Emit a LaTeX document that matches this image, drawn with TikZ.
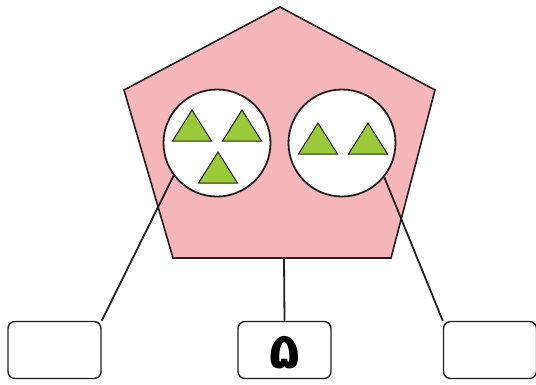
\documentclass[tikz,border=0pt]{standalone}
\usepackage{fontspec}
\newfontfamily\arabicfont[Script=Arabic]{DejaVu Sans}
\TeXXeTstate=1
\definecolor{pent}{HTML}{F7B6BA}
\definecolor{tri}{HTML}{9ACA3C}
\definecolor{ink}{HTML}{231F20}
\begin{document}
\begin{tikzpicture}[x=1pt,y=-1pt,
  ln/.style={draw=ink,line width=1.8pt},
  circ/.style={circle,draw=ink,line width=1.8pt,fill=white,minimum size=107pt,inner sep=0pt},
  box/.style={draw=ink,line width=1.4pt,rounded corners=7pt,fill=white,minimum width=93pt,minimum height=57pt,inner sep=0pt},
  trg/.style={fill=tri,draw=ink,line width=1pt,line join=miter}]
\useasboundingbox (0,0) rectangle (536,384);
% pentagon
\draw[fill=pent,draw=ink,line width=1.6pt] (280,7) -- (435,90) -- (391,258) -- (173,258) -- (124,90) -- cycle;
\coordinate (pb) at (284,258);
% boxes
\node[box] (lb) at (54.5,350) {};
\node[box] (mb) at (284.5,350) {};
\node (digit) at (284.5,353) {\arabicfont\bfseries\fontsize{50}{52}\selectfont\beginR ۵\endR};
\node[box] (rb) at (490,350) {};
% circles
\node[circ] (lc) at (217,143) {};
\node[circ] (rc) at (342,143) {};
% connectors
\draw[ln] (lb.north east) -- (lc.217);
\draw[ln] (rb.north west) -- (rc.321);
\draw[ln] (pb) -- (mb.north);
% triangles
\foreach \ax/\ay in {192/110, 242/110, 218/152, 318/123, 368/123}{
  \draw[trg] (\ax,\ay) -- (\ax+19.5,\ay+31) -- (\ax-19.5,\ay+31) -- cycle;
}
\end{tikzpicture}
\end{document}
